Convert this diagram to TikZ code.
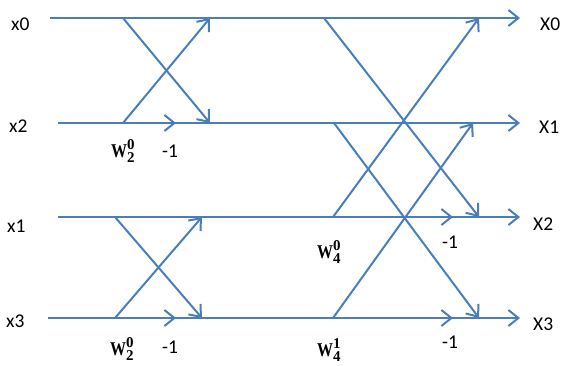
\documentclass[tikz,border=0pt]{standalone}
\usepackage{fontspec}
\setmainfont{Carlito}
\newfontfamily\wfont{Liberation Serif}
\usetikzlibrary{arrows.meta}
\definecolor{wire}{RGB}{74,126,187}
% twiddle factor W_{#1}^{#2}
\newcommand\twid[2]{{\wfont\bfseries\scalebox{0.82}[1]{W}\makebox[0pt][l]{\raisebox{8pt}{\fontsize{15}{15}\selectfont #2}}\raisebox{-5.5pt}{\fontsize{15}{15}\selectfont #1}}}
\begin{document}
\begin{tikzpicture}[x=1pt,y=-1pt,
  wireline/.style={draw=wire,line width=2pt},
  flow/.style={wireline,-{Straight Barb[length=10pt,width=16pt,line width=2pt]}},
  lbl/.style={font=\fontsize{19.5}{22}\selectfont,inner sep=0pt,anchor=base west},
  wlbl/.style={font=\fontsize{19.5}{22}\selectfont,inner sep=0pt,anchor=base west}]
\useasboundingbox (0,0) rectangle (562,365);
% row starts and output ends
\coordinate (s0) at (50,18);   \coordinate (t0) at (520,18);
\coordinate (s1) at (58,123);  \coordinate (t1) at (520,123);
\coordinate (s2) at (58,217);  \coordinate (t2) at (520,217);
\coordinate (s3) at (48,318);  \coordinate (t3) at (520,318);
% first stage butterflies
\coordinate (a0) at (123,18);  \coordinate (b0) at (210,18);
\coordinate (a1) at (123,123); \coordinate (b1) at (210,123);
\coordinate (c2) at (115,217); \coordinate (d2) at (202,217);
\coordinate (c3) at (115,318); \coordinate (d3) at (202,318);
\coordinate (m1) at (176,123); \coordinate (m3) at (176,318);
% second stage butterflies
\coordinate (e0) at (324,18);  \coordinate (f0) at (479,18);
\coordinate (e1) at (334,123); \coordinate (f1) at (473,123);
\coordinate (e2) at (333,217); \coordinate (f2) at (479,217);
\coordinate (e3) at (333,318); \coordinate (f3) at (479,318);
\coordinate (n2) at (453,217); \coordinate (n3) at (453,318);

% horizontal wires
\foreach \i in {0,...,3} \draw[flow] (s\i) -- (t\i);
% midline arrows
\draw[flow] (a1) -- (m1);
\draw[flow] (c3) -- (m3);
\draw[flow] (e2) -- (n2);
\draw[flow] (e3) -- (n3);
% first stage crossings
\draw[flow] (a0) -- (b1);
\draw[flow] (a1) -- (b0);
\draw[flow] (c2) -- (d3);
\draw[flow] (c3) -- (d2);
% second stage crossings
\draw[flow] (e0) -- (f2);
\draw[flow] (e2) -- (f0);
\draw[flow] (e1) -- (f3);
\draw[flow] (e3) -- (f1);

% input labels
\node[lbl] (in0) at (11,30) {x0};
\node[lbl] (in2) at (9,132) {x2};
\node[lbl] (in1) at (7,232) {x1};
\node[lbl] (in3) at (6,327) {x3};
% output labels
\node[lbl] (out0) at (540,30) {X0};
\node[lbl] (out1) at (539,133) {X1};
\node[lbl] (out2) at (533,230) {X2};
\node[lbl] (out3) at (533,330) {X3};
% twiddle factors and sign labels
\node[wlbl] (w20a) at (111,157) {\twid{2}{0}};
\node[lbl] (n1a) at (162,157) {-1};
\node[wlbl] (w20b) at (110,355) {\twid{2}{0}};
\node[lbl] (n1b) at (162,353) {-1};
\node[wlbl] (w40) at (317,258) {\twid{4}{0}};
\node[lbl] (n1c) at (442,248) {-1};
\node[wlbl] (w41) at (317,356) {\twid{4}{1}};
\node[lbl] (n1d) at (442,348) {-1};
\end{tikzpicture}
\end{document}
